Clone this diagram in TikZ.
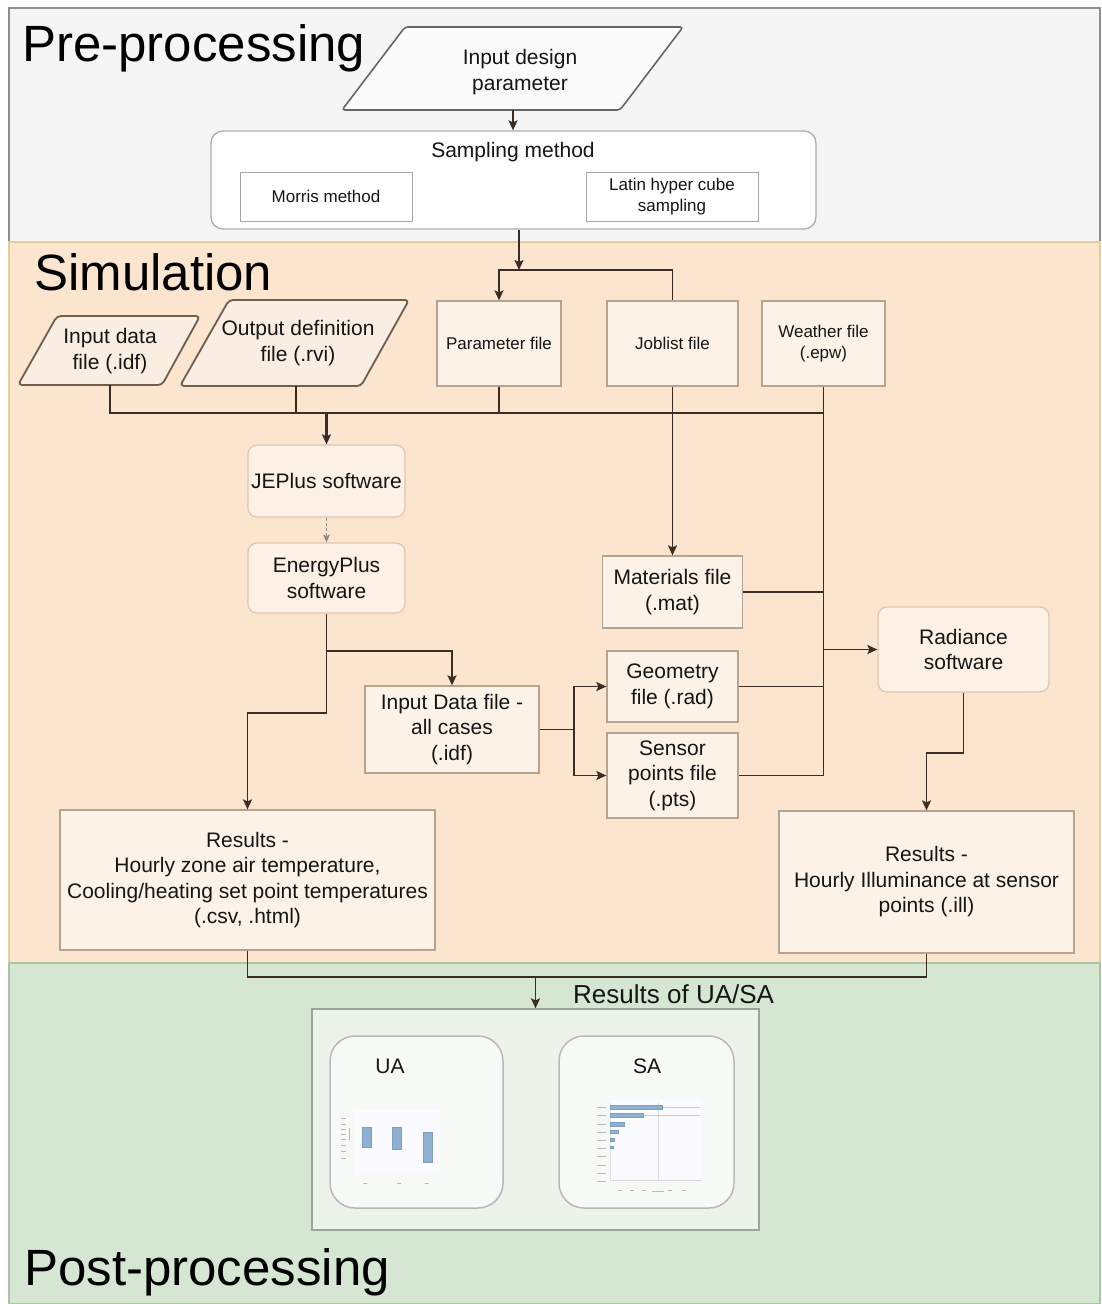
\documentclass[tikz,border=0pt]{standalone}
\usepackage{fontspec}
\setmainfont{Liberation Sans}
\usetikzlibrary{arrows.meta,calc}
\definecolor{prebg}{HTML}{F5F5F5}
\definecolor{predraw}{HTML}{8E8E8E}
\definecolor{simbg}{HTML}{FCE5CF}
\definecolor{simline}{HTML}{E2CF9C}
\definecolor{postbg}{HTML}{D5E7D3}
\definecolor{postline}{HTML}{A9C7A2}
\definecolor{txtc}{HTML}{151515}
\definecolor{boxfill}{HTML}{FDF2E8}
\definecolor{boxdraw}{HTML}{B5A493}
\definecolor{rndfill}{HTML}{FDF0E4}
\definecolor{rnddraw}{HTML}{DCC8B4}
\definecolor{parafill}{HTML}{FAEEE2}
\definecolor{paradraw}{HTML}{6E5E50}
\definecolor{conncol}{HTML}{3B2D22}
\definecolor{contfill}{HTML}{EDF2EA}
\definecolor{contdraw}{HTML}{9AA69A}
\definecolor{chartfill}{HTML}{F6F9F5}
\definecolor{barblue}{HTML}{8EB0D2}
\begin{document}
\begin{tikzpicture}[x=1pt,y=-1pt,
  txt/.style={font=\fontsize{21}{25.5}\selectfont, text=txtc, align=center, inner sep=0pt},
  stxt/.style={font=\fontsize{17}{21}\selectfont, text=txtc, align=center, inner sep=0pt},
  ttl/.style={font=\fontsize{51}{60}\selectfont, text=black, inner sep=0pt, anchor=base west},
  simbox/.style={rectangle, draw=boxdraw, fill=boxfill, line width=1.3pt, txt},
  rndbox/.style={rectangle, rounded corners=9pt, draw=rnddraw, fill=rndfill, line width=1.3pt, txt},
  para/.style={draw=paradraw, fill=parafill, line width=1.8pt, rounded corners=4pt},
  prebox/.style={rectangle, draw=gray!70, fill=white, line width=1pt, stxt},
  conn/.style={draw=conncol, line width=1.7pt},
  arr/.style={conn, -{Stealth[length=10pt,width=9pt,inset=2pt]}},
  chartbox/.style={rectangle, rounded corners=25pt, draw=gray!55, fill=chartfill, line width=1.5pt},
  tick/.style={draw=gray!55, line width=0.8pt},
  bar/.style={fill=barblue, draw=barblue!90!black, line width=0.4pt}
]
\useasboundingbox (0,0) rectangle (1102,1304);
\fill[white] (0,0) rectangle (1102,1304);

% bands
\path[fill=prebg, draw=predraw, line width=1.5pt] (9,8) rectangle (1100,242);
\path[fill=simbg, draw=simline, line width=1.5pt] (9,242) rectangle (1100,963);
\path[fill=postbg, draw=postline, line width=1.5pt] (9,963) rectangle (1100,1304);

% titles
\node[ttl] (tpre) at (22,61) {Pre-processing};
\node[ttl] (tsim) at (34,290) {Simulation};
\node[ttl] (tpost) at (24,1285) {Post-processing};

% ---------- pre-processing ----------
\path[draw=gray!80!black, fill=white!97!gray, line width=1.6pt, rounded corners=3pt]
  (342,110) -- (405,27) -- (683,27) -- (620,110) -- cycle;
\node[txt] (idp) at (520,72) {Input design\\parameter};
\coordinate (idpS) at (513,110);

\node[rectangle, rounded corners=12pt, draw=gray!65, fill=white!99!gray, line width=1.3pt,
      minimum width=605pt, minimum height=98pt] (samp) at (513.5,180) {};
\node[txt] (sampt) at (513,152) {Sampling method};
\node[prebox, minimum width=172pt, minimum height=49pt] (morris) at (326,196.5) {Morris method};
\node[prebox, minimum width=172pt, minimum height=49pt] (latin) at (672,196.5) {Latin hyper cube\\sampling};

\draw[arr] (idpS) -- (samp.north -| idpS);

% ---------- simulation ----------
\path[para] (18,385) -- (57,316) -- (200,316) -- (162,385) -- cycle;
\node[txt] (idf) at (110,351) {Input data\\file (.idf)};
\coordinate (idfS) at (110,385);

\path[para] (180,386) -- (229,300) -- (409,300) -- (361,386) -- cycle;
\node[txt] (rvi) at (298,343) {Output definition\\file (.rvi)};
\coordinate (rviS) at (296,386);

\node[simbox, stxt, minimum width=124pt, minimum height=85pt] (param) at (499,343.5) {Parameter file};
\node[simbox, stxt, minimum width=131pt, minimum height=85pt] (job) at (672.5,343.5) {Joblist file};
\node[simbox, stxt, minimum width=123pt, minimum height=85pt] (weather) at (823.5,343.5) {Weather file\\(.epw)};

\node[rndbox, minimum width=157pt, minimum height=72pt] (jeplus) at (326.5,481) {JEPlus software};
\node[rndbox, minimum width=157pt, minimum height=70pt] (eplus) at (326.5,578) {EnergyPlus\\software};

\node[simbox, minimum width=174pt, minimum height=87pt] (inall) at (452,729.5) {Input Data file -\\all cases\\(.idf)};
\node[simbox, minimum width=140pt, minimum height=72pt] (mat) at (672.5,592) {Materials file\\(.mat)};
\node[simbox, minimum width=131pt, minimum height=71pt] (geo) at (672.5,686.5) {Geometry\\file (.rad)};
\node[simbox, minimum width=131pt, minimum height=85pt] (sensor) at (672.5,775.5) {Sensor\\points file\\(.pts)};
\node[rndbox, minimum width=171pt, minimum height=85pt] (rad) at (963.5,649.5) {Radiance\\software};

\node[simbox, minimum width=375pt, minimum height=140pt] (resL) at (247.5,880)
  {Results -\\Hourly zone air temperature,\\Cooling/heating set point temperatures\\(.csv, .html)};
\node[simbox, minimum width=295pt, minimum height=142pt] (resR) at (926.5,882)
  {Results -\\Hourly Illuminance at sensor\\points (.ill)};

\coordinate (j1) at (519,270);
\coordinate (bus) at (0,413);
\coordinate (busy) at (0,977);

\draw[arr] (samp.south -| j1) -- (j1);
\draw[arr] (j1) -| (param.north);
\draw[conn] (j1) -| (job.north);

\draw[conn] (idfS) |- (weather.south |- bus);
\draw[conn] (rviS) -- (rviS |- bus);
\draw[conn] (param.south) -- (param.south |- bus);
\draw[conn] (weather.south) |- (sensor.east);
\draw[arr, line width=2.4pt] (jeplus.north |- bus) -- (jeplus.north);
\draw[arr] (job.south) -- (mat.north);
\draw[conn] (mat.east) -- (mat.east -| weather.south);
\draw[conn] (geo.east) -- (geo.east -| weather.south);
\draw[arr] (rad.west -| weather.south) -- (rad.west);

\draw[conncol!55, line width=1pt, densely dashed, -{Stealth[length=8pt,width=7pt,inset=2pt]}] (jeplus.south) -- (eplus.north);

\draw[arr] (eplus.south) -- ++(0,37) -| (inall.north);
\draw[arr] (eplus.south) -- ++(0,99) -| (resL.north);
\draw[arr] (inall.east) -- ++(34,0) |- (geo.west);
\draw[arr] (inall.east) -- ++(34,0) |- (sensor.west);
\draw[arr] (rad.south) -- ++(0,60) -| (resR.north);

% ---------- post-processing ----------
\node[rectangle, draw=contdraw, fill=contfill, line width=1.3pt,
      minimum width=447pt, minimum height=221pt] (cont) at (535.5,1119.5) {};
\draw[conn] (resL.south) |- (resR.south |- busy) -- (resR.south);
\draw[arr] (cont.north |- busy) -- (cont.north);
\node[font=\fontsize{26}{30}\selectfont, text=txtc, anchor=west, inner sep=0pt] (resua) at (573,994) {Results of UA/SA};

\node[chartbox, minimum width=173pt, minimum height=172pt] (ua) at (416.5,1122) {};
\node[chartbox, minimum width=175pt, minimum height=172pt] (sa) at (646.5,1122) {};
\node[txt] (uat) at (390,1066) {UA};
\node[txt] (sat) at (647,1066) {SA};

% UA mini chart
\fill[blue!1.5] (355,1110) rectangle (440,1175);
\foreach \yy in {1118,1124,1129,1134,1139,1145,1151,1158}
  \draw[tick] (341,\yy) -- (346,\yy);
\draw[tick] (349,1128) -- (349,1140);
\path[bar] (362,1127) rectangle (371,1147);
\path[bar] (392,1127) rectangle (401,1149);
\path[bar] (423,1132) rectangle (432,1162);
\foreach \xx in {365,399,427}
  \draw[tick] (\xx-2,1183) -- (\xx+2,1183);

% SA mini chart
\fill[blue!1.5] (610,1100) rectangle (702,1180);
\draw[gray!30, line width=0.8pt] (658,1103) -- (658,1180);
\draw[gray!30, line width=0.8pt] (610,1180) -- (702,1180);
\draw[gray!25, line width=0.6pt] (610,1103) -- (610,1180);
\draw[barblue!60, line width=0.8pt] (662,1107) -- (700,1107);
\draw[barblue!60, line width=0.8pt] (643,1115) -- (700,1115);
\path[bar] (610,1105) rectangle (662,1109);
\path[bar] (610,1113) rectangle (643,1117);
\path[bar] (610,1122) rectangle (624,1126);
\path[bar] (610,1130) rectangle (618,1133);
\path[bar] (610,1138) rectangle (614,1141);
\path[bar] (610,1146) rectangle (613,1148);
\foreach \yy in {1107,1115,1124,1132,1140,1148,1156,1165,1173,1181}
  \draw[tick] (597,\yy) -- (606,\yy);
\foreach \xx in {620,632,644,670,684}
  \draw[tick] (\xx-2,1190) -- (\xx+2,1190);
\draw[tick] (652,1191) -- (664,1191);
\end{tikzpicture}
\end{document}
